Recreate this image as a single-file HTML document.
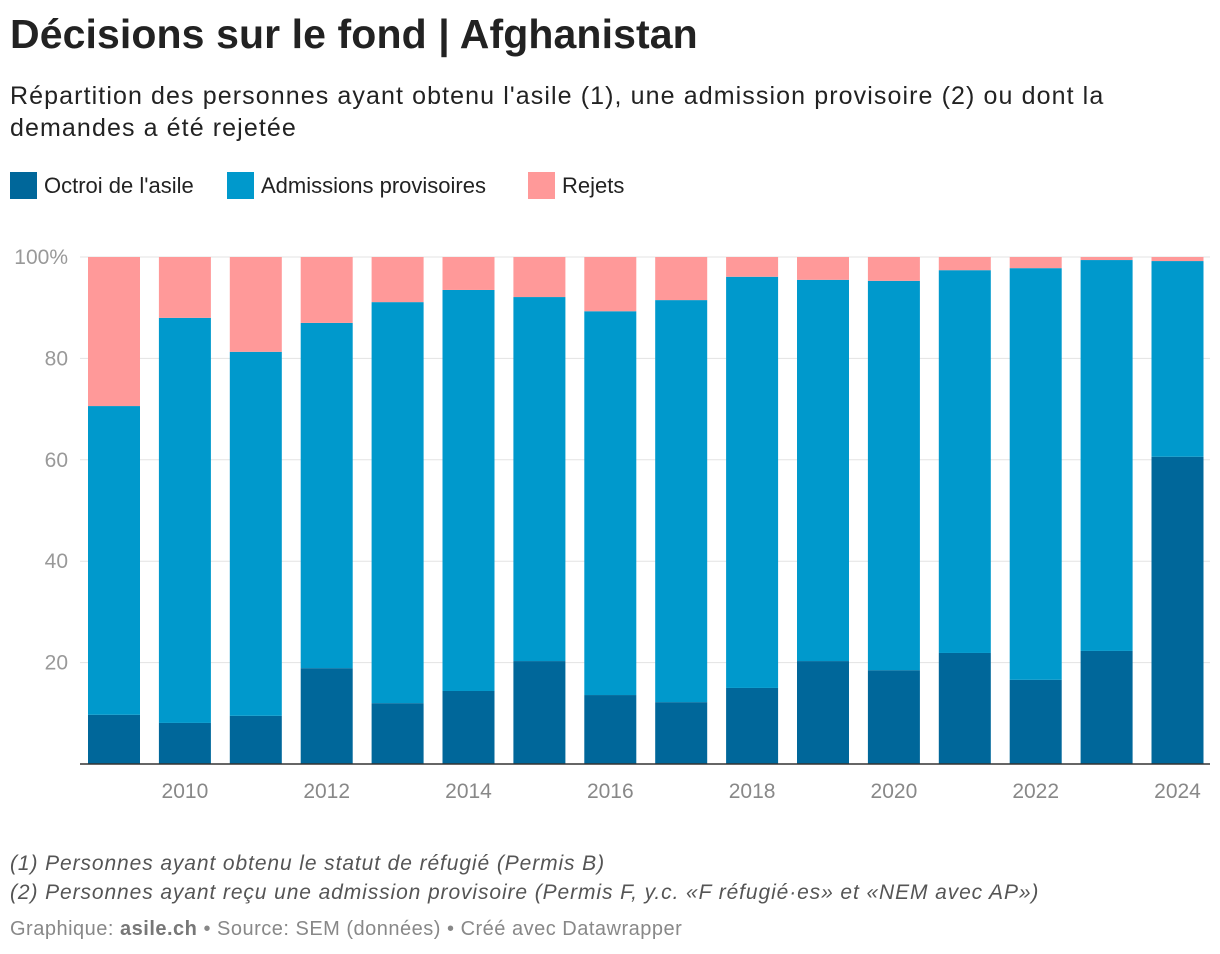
<!DOCTYPE html>
<html><head><meta charset="utf-8">
<style>
body{margin:0;background:#fff;font-family:"Liberation Sans",Roboto,sans-serif;color:#222;}
#wrap{position:relative;width:1220px;height:954px;overflow:hidden}
h1{position:absolute;left:10px;top:11px;margin:0;font-size:41px;font-weight:bold;letter-spacing:0.1px}
.sub{position:absolute;left:10px;top:80px;font-size:25px;line-height:32px;color:#222;width:1140px;letter-spacing:1.1px}
.leg{position:absolute;top:172px;font-size:22px;display:flex;align-items:center}
.sw{width:27px;height:27px;margin-right:7px}
.note{position:absolute;left:10px;font-size:21px;font-style:italic;color:#555;letter-spacing:0.9px}
.foot{position:absolute;left:10px;top:918px;font-size:20px;color:#888;letter-spacing:0.5px}
</style></head><body>
<div id="wrap">
<h1>Décisions sur le fond | Afghanistan</h1>
<div class="sub">Répartition des personnes ayant obtenu l'asile (1), une admission provisoire (2) ou dont la demandes a été rejetée</div>
<div class="leg" style="left:10px"><div class="sw" style="background:#00679a"></div>Octroi de l'asile</div>
<div class="leg" style="left:227px"><div class="sw" style="background:#0099cc"></div>Admissions provisoires</div>
<div class="leg" style="left:528px"><div class="sw" style="background:#ff9999"></div>Rejets</div>
<svg id="chart" width="1220" height="954" style="position:absolute;left:0;top:0"></svg>
<div class="note" style="top:852px">(1) Personnes ayant obtenu le statut de réfugié (Permis B)</div>
<div class="note" style="top:881px">(2) Personnes ayant reçu une admission provisoire (Permis F, y.c. «F réfugié·es» et «NEM avec AP»)</div>
<div class="foot">Graphique: <b style="color:#777">asile.ch</b> • Source: SEM (données) • Créé avec Datawrapper</div>
</div>
<script>
const years=[2009,2010,2011,2012,2013,2014,2015,2016,2017,2018,2019,2020,2021,2022,2023,2024];
const octroi=[9.7,8.1,9.5,18.9,12.0,14.4,20.3,13.6,12.2,15.0,20.3,18.5,21.9,16.6,22.3,60.6];
const admissions=[60.9,79.9,71.8,68.1,79.1,79.1,71.8,75.7,79.3,81.1,75.2,76.8,75.5,81.2,77.1,38.6];
const rejets=[29.4,12.0,18.7,13.0,8.9,6.5,7.9,10.7,8.5,3.9,4.5,4.7,2.6,2.2,0.6,0.8];
const yTicks=[20,40,60,80,100];
const svg=document.getElementById('chart');
const NS='http://www.w3.org/2000/svg';
const y0=764,y1=257;
const Y=v=>y0-(v/100)*(y0-y1);
const X=i=>88+i*70.9;
const bw=52;
function mk(t,a){const e=document.createElementNS(NS,t);for(const k in a)e.setAttribute(k,a[k]);svg.appendChild(e);return e;}
yTicks.forEach(t=>{
 const l=mk('line',{x1:80,x2:1210,y1:Y(t),y2:Y(t),stroke:'#e3e3e3','stroke-width':1});
 
 
 const tx=mk('text',{x:68,y:Y(t)+7,'text-anchor':'end','font-size':21,fill:'#999','font-family':'Liberation Sans, sans-serif'});
 tx.textContent=t===100?'100%':String(t);
 
 
});
years.forEach((yr,i)=>{
 const segs=[[octroi[i],'#00679a','octroi'],[admissions[i],'#0099cc','admissions'],[rejets[i],'#ff9999','rejets']];
 let base=0;
 segs.forEach(([v,c,n])=>{
  const r=mk('rect',{x:X(i),y:Y(base+v),width:bw,height:Y(base)-Y(base+v),fill:c});
  
  
  base+=v;
 });
 if(yr%2===0){
  const tx=mk('text',{x:X(i)+bw/2,y:798,'text-anchor':'middle','font-size':21,fill:'#888','font-family':'Liberation Sans, sans-serif'});
  tx.textContent=yr;
  
  
 }
});
const ax=mk('line',{x1:80,x2:1210,y1:y0,y2:y0,stroke:'#333','stroke-width':1.5});


</script>
</body></html>
